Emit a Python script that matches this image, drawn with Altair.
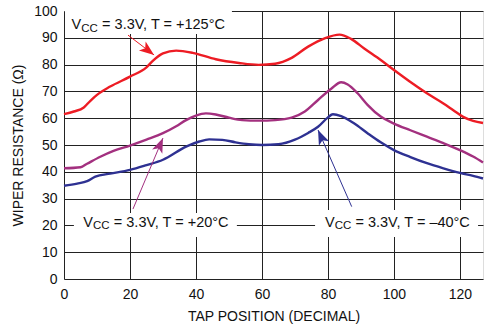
import altair as alt
import pandas as pd
import numpy as np

# ---- data ----
red_x = [0, 3, 6, 8, 10, 14, 20, 25, 27, 30, 34, 39, 46, 53, 59, 64, 69, 74, 79, 83.5, 87, 91, 96, 100, 105, 110, 115, 118, 121, 124, 127]
red_y = [61.5, 62.5, 64, 66.5, 68.7, 71.8, 75.5, 79, 81.5, 84.2, 85.2, 84.4, 82, 80.6, 79.9, 80.3, 82.5, 86.7, 89.8, 91.2, 89.6, 86, 81.7, 78, 73.5, 69.3, 65.5, 63, 60.5, 59, 58.2]

mag_x = [0, 5, 7, 11, 15, 20, 25, 30, 34, 37, 40, 43, 46, 50, 54, 59, 64, 69, 73, 77, 81, 84, 86, 89, 92, 96, 100, 105, 110, 115, 120, 124, 127]
mag_y = [41.3, 41.7, 43, 45.6, 47.8, 49.8, 52, 54.4, 57, 59.3, 61, 61.8, 61.4, 60.2, 59.3, 59.1, 59.3, 60.2, 62.5, 66.8, 71, 73.4, 72.6, 69.3, 65, 60.6, 58, 55.5, 53.1, 50.7, 48.1, 45.7, 43.5]

blu_x = [0, 4, 7, 9.5, 14, 20, 25, 30, 37, 41, 44, 48, 52, 56, 60, 65, 70, 74, 77, 80, 81.5, 84, 88, 92, 96, 100, 105, 110, 115, 120, 124, 127]
blu_y = [34.8, 35.6, 36.5, 38.2, 39.3, 40.7, 42.5, 44.5, 49.4, 51.3, 52.1, 51.9, 51, 50.3, 50, 50.3, 52, 54.5, 56.8, 60.3, 61.5, 60.8, 58, 54.4, 51, 48.1, 45.5, 43.2, 41.3, 39.6, 38.5, 37.5]

series_names = ["+125°C", "+20°C", "-40°C"]
series_colors = ["#ED1C24", "#A3307F", "#2E3192"]

x_ticks = [0, 20, 40, 60, 80, 100, 120]
y_ticks = [0, 10, 20, 30, 40, 50, 60, 70, 80, 90, 100]

label_rest = ["= 3.3V, T = +125°C", "= 3.3V, T = +20°C", "= 3.3V, T = \u201340°C"]
label_x = [2.3, 5.85, 79.1]
label_y = [93.1, 19.5, 19.5]
box_x1 = [0.3, 3.0, 76.1]
box_x2 = [50.9, 52.4, 125.5]
box_y1 = [91.4, 15.7, 15.7]
box_y2 = [100, 24.6, 25.7]

arrow_x1 = [19.4, 20.9, 87.2]
arrow_y1 = [91.0, 26.1, 27.0]
arrow_x2 = [27.3, 30.0, 77.0]
arrow_y2 = [83.6, 52.6, 55.6]

FONT = "Liberation Sans"
W, H = 419, 268
XMAX, YMAX = 127, 100

frames = []
for name, xs_, ys_ in [(series_names[0], red_x, red_y), (series_names[1], mag_x, mag_y), (series_names[2], blu_x, blu_y)]:
    frames.append(pd.DataFrame({"x": xs_, "y": ys_, "s": name}))
df = pd.concat(frames, ignore_index=True)

sx = W / XMAX
sy = H / YMAX
angles = []
for x1, y1, x2, y2 in zip(arrow_x1, arrow_y1, arrow_x2, arrow_y2):
    dx = (x2 - x1) * sx
    dyv = -(y2 - y1) * sy
    angles.append(float(np.degrees(np.arctan2(dx, -dyv)) % 360))

ann = pd.DataFrame({
    "s": series_names,
    "lx": label_x, "ly": label_y, "rest": label_rest,
    "bx1": box_x1, "bx2": box_x2, "by1": box_y1, "by2": box_y2,
    "ax1": arrow_x1, "ay1": arrow_y1, "ax2": arrow_x2, "ay2": arrow_y2,
    "ang": angles,
})

xs = alt.Scale(domain=[0, XMAX], nice=False, zero=False)
ys = alt.Scale(domain=[0, YMAX], nice=False)
color = alt.Color("s:N", scale=alt.Scale(domain=series_names, range=series_colors), legend=None)

XAX = alt.Axis(values=x_ticks, title="TAP POSITION (DECIMAL)", grid=True,
               gridColor="#222", gridWidth=1, gridOpacity=1, labelOverlap=False,
               ticks=False, domain=False, labelFontSize=14, labelFont=FONT,
               labelColor="#111", labelPadding=8, labelFlush=False,
               titleFont=FONT, titleFontSize=14, titleFontWeight="normal",
               titleColor="#111", titlePadding=8)
YAX = alt.Axis(values=y_ticks, title="WIPER RESISTANCE (Ω)", grid=True,
               gridColor="#222", gridWidth=1, gridOpacity=1, labelOverlap=False,
               ticks=False, domain=False, labelFontSize=14, labelFont=FONT,
               labelColor="#111", labelPadding=7, labelFlush=False,
               titleFont=FONT, titleFontSize=14, titleFontWeight="normal",
               titleColor="#111", titlePadding=8)

a = alt.Chart(ann)
boxes = a.mark_rect(fill="white").encode(
    x=alt.X("bx1:Q", scale=xs, axis=XAX), x2="bx2:Q", y=alt.Y("by1:Q", scale=ys, axis=YAX), y2="by2:Q")
tV = a.mark_text(text="V", font=FONT, fontSize=14.5, align="left", baseline="alphabetic", color="#111").encode(
    x=alt.X("lx:Q", scale=xs, axis=XAX), y=alt.Y("ly:Q", scale=ys, axis=YAX))
tCC = a.mark_text(text="CC", font=FONT, fontSize=11.5, align="left", baseline="alphabetic", dx=9.7, dy=2.5, color="#111").encode(
    x=alt.X("lx:Q", scale=xs, axis=XAX), y=alt.Y("ly:Q", scale=ys, axis=YAX))
tR = a.mark_text(font=FONT, fontSize=14.5, align="left", baseline="alphabetic", dx=30.5, color="#111").encode(
    x=alt.X("lx:Q", scale=xs, axis=XAX), y=alt.Y("ly:Q", scale=ys, axis=YAX), text="rest:N")
base = alt.Chart(df).mark_line(strokeWidth=2.4, interpolate="monotone").encode(
    x=alt.X("x:Q", scale=xs, axis=XAX), y=alt.Y("y:Q", scale=ys, axis=YAX), color=color)
arrows = a.mark_rule(strokeWidth=1).encode(
    x=alt.X("ax1:Q", scale=xs, axis=XAX), y=alt.Y("ay1:Q", scale=ys, axis=YAX), x2="ax2:Q", y2="ay2:Q", color=color)
heads = a.mark_point(shape="M0,0L-0.75,2L0,1.5L0.75,2Z", filled=True, size=220, opacity=1).encode(
    x=alt.X("ax2:Q", scale=xs, axis=XAX), y=alt.Y("ay2:Q", scale=ys, axis=YAX),
    angle=alt.Angle("ang:Q", scale=None), color=color)

chart = alt.layer(boxes, tV, tCC, tR, base, arrows, heads).properties(
    width=W, height=H,
    autosize=alt.AutoSizeParams(type="none"),
    padding={"left": 64, "top": 11, "right": 13, "bottom": 52},
).configure_view(stroke="#222", strokeWidth=1.5).configure(background="white")

chart.save("out.html", embed_options={"renderer": "svg", "actions": False})
